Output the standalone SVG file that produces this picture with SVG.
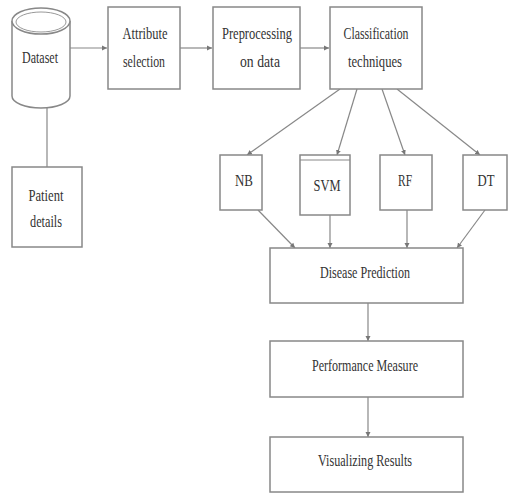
<svg xmlns="http://www.w3.org/2000/svg" width="510" height="496" viewBox="0 0 510 496">
<defs>
<marker id="ah" markerWidth="6" markerHeight="6" refX="5" refY="3" orient="auto" markerUnits="userSpaceOnUse">
<path d="M0,0.5 L5,3 L0,5.5 z" fill="#777"/>
</marker>
<style>
.box{fill:#fff;stroke:#888;stroke-width:1.5}
.t{font-family:"Liberation Serif","Times New Roman",serif;font-size:17px;fill:#333;text-anchor:middle}
.c{fill:none;stroke:#888;stroke-width:1.2}
.a{fill:none;stroke:#888;stroke-width:1.2;marker-end:url(#ah)}
</style>
</defs>
<rect width="510" height="496" fill="#fff"/>
<g id="connectors">
<line class="c" x1="47" y1="108" x2="47" y2="167"/>
<line class="a" x1="70" y1="48" x2="107" y2="48"/>
<line class="a" x1="180" y1="48" x2="212" y2="48"/>
<line class="a" x1="300" y1="48" x2="329" y2="48"/>
<line class="a" x1="340" y1="89" x2="247" y2="155"/>
<line class="a" x1="357" y1="89" x2="337" y2="155"/>
<line class="a" x1="382" y1="89" x2="405" y2="155"/>
<line class="a" x1="397" y1="89" x2="480" y2="155"/>
<line class="a" x1="258" y1="210" x2="295" y2="248"/>
<line class="a" x1="330" y1="215" x2="330" y2="248"/>
<line class="a" x1="407" y1="210" x2="407" y2="248"/>
<line class="a" x1="485" y1="210" x2="457" y2="248"/>
<line class="a" x1="368" y1="303" x2="368" y2="341"/>
<line class="a" x1="368" y1="397" x2="368" y2="437"/>
</g>
<g id="dataset">
<path class="box" d="M12,21 L12,96 A29,12 0 0 0 70,96 L70,21"/>
<ellipse class="box" cx="41" cy="21" rx="29" ry="13"/>
<ellipse cx="41" cy="22" rx="25" ry="10" fill="none" stroke="#999" stroke-width="1"/>
<text class="t" x="40" y="63" textLength="36" lengthAdjust="spacingAndGlyphs">Dataset</text>
</g>
<g id="attribute">
<rect class="box" x="108" y="7" width="72" height="82"/>
<text class="t" x="145" y="39" textLength="45" lengthAdjust="spacingAndGlyphs">Attribute</text>
<text class="t" x="144" y="67" textLength="42" lengthAdjust="spacingAndGlyphs">selection</text>
</g>
<g id="preprocessing">
<rect class="box" x="213" y="7" width="87" height="82"/>
<text class="t" x="257" y="39" textLength="70" lengthAdjust="spacingAndGlyphs">Preprocessing</text>
<text class="t" x="260" y="67" textLength="40" lengthAdjust="spacingAndGlyphs">on data</text>
</g>
<g id="classification">
<rect class="box" x="330" y="7" width="92" height="82"/>
<text class="t" x="376" y="39" textLength="65" lengthAdjust="spacingAndGlyphs">Classification</text>
<text class="t" x="375" y="67" textLength="54" lengthAdjust="spacingAndGlyphs">techniques</text>
</g>
<g id="patient">
<rect class="box" x="12" y="167" width="70" height="80"/>
<text class="t" x="46" y="201" textLength="35" lengthAdjust="spacingAndGlyphs">Patient</text>
<text class="t" x="46" y="227" textLength="32" lengthAdjust="spacingAndGlyphs">details</text>
</g>
<g id="nb">
<rect class="box" x="220" y="155" width="42" height="55"/>
<text class="t" x="244" y="186" textLength="18" lengthAdjust="spacingAndGlyphs">NB</text>
</g>
<g id="svm">
<rect class="box" x="300" y="155" width="50" height="60"/>
<line x1="300" y1="160" x2="350" y2="160" stroke="#888" stroke-width="1"/>
<text class="t" x="327" y="191" textLength="27" lengthAdjust="spacingAndGlyphs">SVM</text>
</g>
<g id="rf">
<rect class="box" x="380" y="155" width="52" height="55"/>
<text class="t" x="405" y="186" textLength="14" lengthAdjust="spacingAndGlyphs">RF</text>
</g>
<g id="dt">
<rect class="box" x="463" y="155" width="44" height="55"/>
<text class="t" x="486" y="186" textLength="17" lengthAdjust="spacingAndGlyphs">DT</text>
</g>
<g id="disease">
<rect class="box" x="270" y="248" width="193" height="55"/>
<text class="t" x="365" y="278" textLength="90" lengthAdjust="spacingAndGlyphs">Disease Prediction</text>
</g>
<g id="performance">
<rect class="box" x="270" y="341" width="193" height="56"/>
<text class="t" x="365" y="371" textLength="106" lengthAdjust="spacingAndGlyphs">Performance Measure</text>
</g>
<g id="visualizing">
<rect class="box" x="270" y="437" width="193" height="55"/>
<text class="t" x="365" y="466" textLength="94" lengthAdjust="spacingAndGlyphs">Visualizing Results</text>
</g>
</svg>
